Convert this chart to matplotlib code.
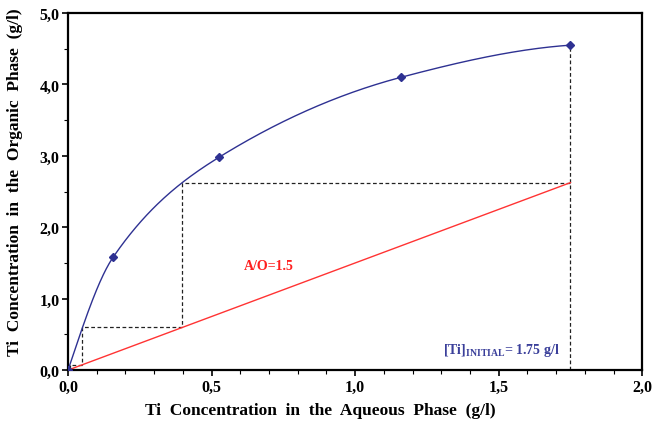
import numpy as np
import matplotlib.pyplot as plt
from matplotlib.ticker import MultipleLocator

plt.rcParams['font.family'] = ['Liberation Serif', 'DejaVu Serif']
plt.rcParams['mathtext.fontset'] = 'custom'
plt.rcParams['mathtext.rm'] = 'Liberation Serif:bold'
plt.rcParams['mathtext.bf'] = 'Liberation Serif:bold'

# Equilibrium isotherm data
aq_conc = [0.0, 0.157, 0.526, 1.16, 1.75]
org_conc = [0.0, 1.58, 2.98, 4.10, 4.55]

ao_ratio = 1.5
ti_initial = 1.75


def pchip(xs, ys, n=80):
    # monotone cubic through the points (smoothed line)
    x = np.asarray(xs, float)
    y = np.asarray(ys, float)
    h = np.diff(x)
    d = np.diff(y) / h
    m = np.zeros_like(x)
    for k in range(1, len(x) - 1):
        if d[k - 1] * d[k] > 0:
            w1 = 2 * h[k] + h[k - 1]
            w2 = h[k] + 2 * h[k - 1]
            m[k] = (w1 + w2) / (w1 / d[k - 1] + w2 / d[k])
    m[0] = ((2 * h[0] + h[1]) * d[0] - h[0] * d[1]) / (h[0] + h[1])
    m[-1] = ((2 * h[-1] + h[-2]) * d[-1] - h[-1] * d[-2]) / (h[-1] + h[-2])
    outx, outy = [], []
    for k in range(len(x) - 1):
        t = np.linspace(0, 1, n)
        h00 = 2 * t ** 3 - 3 * t ** 2 + 1
        h10 = t ** 3 - 2 * t ** 2 + t
        h01 = -2 * t ** 3 + 3 * t ** 2
        h11 = t ** 3 - t ** 2
        outx.extend(x[k] + t * h[k])
        outy.extend(h00 * y[k] + h10 * h[k] * m[k] + h01 * y[k + 1] + h11 * h[k] * m[k + 1])
    return np.array(outx), np.array(outy)


cx, cy = pchip(aq_conc, org_conc)

fig = plt.figure(figsize=(6.54, 4.31), dpi=100)
ax = fig.add_axes([0.104, 0.139, 0.878, 0.8285])

# operating line
op_x = np.array([0.0, ti_initial])
ax.plot(op_x, op_x * ao_ratio, color='#FF3333', lw=1.0, zorder=2)

# McCabe-Thiele steps
dash = dict(color='#222222', lw=0.9, ls=(0, (3, 2)), zorder=1)
ax.plot([ti_initial, ti_initial], [0, org_conc[-1]], **dash)
x = ti_initial
for _ in range(3):
    y = x * ao_ratio
    x_new = np.interp(y, cy, cx)
    ax.plot([x, x_new], [y, y], **dash)
    ax.plot([x_new, x_new], [y, x_new * ao_ratio], **dash)
    x = x_new
    if x < 0.01:
        break

# isotherm
ax.plot(cx, cy, color='#2E3192', lw=1.0, zorder=3)
ax.plot(aq_conc, org_conc, ls='none', marker='D', ms=4.5, color='#2E3192', zorder=4)

ax.text(0.70, 1.46, 'A/O=1.5', color='#FF2020', fontsize=10, fontweight='bold', ha='center', va='center')
ax.text(1.307, 0.29, r'$\mathrm{[Ti]_{INITIAL}}$= 1.75 g/l', color='#3A3F9A', fontsize=10,
        fontweight='bold', ha='left', va='center')

ax.set_xlim(0, 2.0)
ax.set_ylim(0, 5.0)
ax.xaxis.set_major_locator(MultipleLocator(0.5))
ax.xaxis.set_minor_locator(MultipleLocator(0.1))
ax.yaxis.set_major_locator(MultipleLocator(1.0))
ax.yaxis.set_minor_locator(MultipleLocator(0.5))
fmt = lambda v, p: f'{v:.1f}'.replace('.', ',')
ax.xaxis.set_major_formatter(plt.FuncFormatter(fmt))
ax.yaxis.set_major_formatter(plt.FuncFormatter(fmt))
ax.tick_params(which='major', length=4, width=1.2, labelsize=11.5, pad=2)
ax.tick_params(which='minor', length=3, width=0.8)
for lab in ax.get_xticklabels() + ax.get_yticklabels():
    lab.set_fontweight('bold')

for s in ax.spines.values():
    s.set_linewidth(1.6)

ax.set_xlabel('Ti  Concentration  in  the  Aqueous  Phase  (g/l)', fontsize=12.5, fontweight='bold')
ax.set_ylabel('Ti  Concentration  in  the  Organic  Phase  (g/l)', fontsize=12.5, fontweight='bold')
ax.xaxis.set_label_coords(0.44, -0.09)
ax.yaxis.set_label_coords(-0.078, 0.53)

fig.savefig('out.png', dpi=100)
